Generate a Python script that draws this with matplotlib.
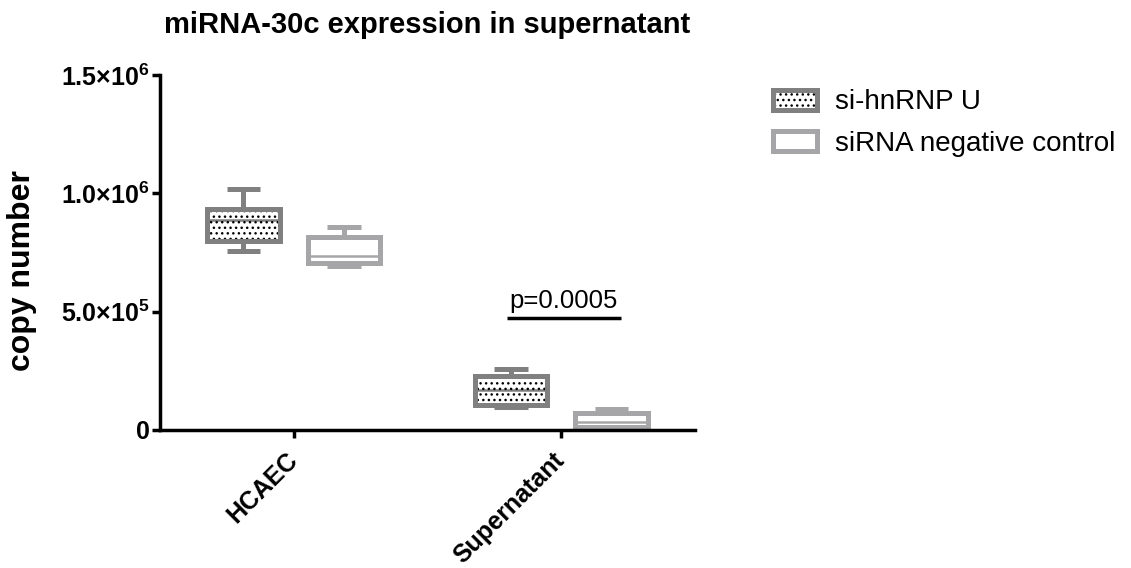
"""Box plot of miRNA-30c copy number, si-hnRNP U vs negative control."""

import matplotlib

matplotlib.use("Agg")

from matplotlib import pyplot as plt
from matplotlib.patches import Patch, PathPatch

plt.rcParams["font.family"] = ["Liberation Sans", "DejaVu Sans"]
plt.rcParams["mathtext.fontset"] = "custom"
plt.rcParams["mathtext.rm"] = "Liberation Sans:bold"
plt.rcParams["mathtext.bf"] = "Liberation Sans:bold"
plt.rcParams["hatch.linewidth"] = 1.0

groups = ["HCAEC", "Supernatant"]
series = ["si-hnRNP U", "siRNA negative control"]

# five-number summaries
sihn_min = [755000, 97000]
sihn_q1 = [797000, 105000]
sihn_med = [886000, 169000]
sihn_q3 = [932000, 228000]
sihn_max = [1020000, 257000]

ctrl_min = [692000, 10000]
ctrl_q1 = [705000, 13000]
ctrl_med = [734000, 34000]
ctrl_q3 = [814000, 72000]
ctrl_max = [857000, 89000]

ytick_values = [0, 500000, 1000000, 1500000]
ytick_labels = ["0", "5.0×10$^{5}$", "1.0×10$^{6}$", "1.5×10$^{6}$"]

p_label = "p=0.0005"

DARK = "#808080"
LIGHT = "#A6A6A8"
HATCH = "..."


def stats(lo, q1, med, q3, hi):
    return [
        {"whislo": a, "q1": b, "med": c, "q3": d, "whishi": e, "fliers": []}
        for a, b, c, d, e in zip(lo, q1, med, q3, hi)
    ]


fig = plt.figure(figsize=(11.31, 5.68), dpi=100, facecolor="white")
ax = fig.add_axes([0.1415, 0.243, 0.473, 0.625])

centers = list(range(1, len(groups) + 1))
offset = 0.188
width = 0.27

sets = [
    (stats(sihn_min, sihn_q1, sihn_med, sihn_q3, sihn_max), -offset, DARK, True),
    (stats(ctrl_min, ctrl_q1, ctrl_med, ctrl_q3, ctrl_max), offset, LIGHT, False),
]
for st, off, color, hatched in sets:
    parts = ax.bxp(
        st,
        positions=[c + off for c in centers],
        widths=width,
        capwidths=0.125,
        patch_artist=True,
        showfliers=False,
        boxprops={"facecolor": "white", "edgecolor": color, "linewidth": 3.6},
        whiskerprops={"color": color, "linewidth": 3.6, "solid_capstyle": "butt"},
        capprops={"color": color, "linewidth": 3.6, "solid_capstyle": "butt"},
        medianprops={"color": color, "linewidth": 1.8},
        manage_ticks=False,
    )
    if hatched:
        for box in parts["boxes"]:
            dots = PathPatch(
                box.get_path(),
                facecolor="none",
                edgecolor="black",
                hatch=HATCH,
                linewidth=0,
                zorder=box.get_zorder() + 0.1,
            )
            ax.add_patch(dots)
            box.set_zorder(box.get_zorder() + 0.2)
            box.set_facecolor("none")

ax.set_xlim(0.5, 2.5)
ax.set_ylim(0, 1500000)
ax.set_xticks(centers)
ax.set_xticklabels(groups, rotation=45, ha="right", va="center",
                   rotation_mode="anchor", fontsize=18, fontweight="bold")
ax.set_yticks(ytick_values)
ax.set_yticklabels(ytick_labels, fontsize=18, fontweight="bold")
ax.tick_params(axis="both", direction="out", length=6, width=2.5)
ax.tick_params(axis="y", pad=1.5)
ax.tick_params(axis="x", pad=13)

for side in ("top", "right"):
    ax.spines[side].set_visible(False)
for side in ("left", "bottom"):
    ax.spines[side].set_linewidth(2.5)

ax.set_ylabel("copy number", fontsize=23, fontweight="bold")
ax.yaxis.set_label_coords(-0.230, 0.45)
ax.set_title("miRNA-30c expression in supernatant", fontsize=21,
             fontweight="bold", pad=30)

# significance bar over the supernatant pair
x0, x1 = centers[1] - offset - width / 2 + 0.12, centers[1] + offset + width / 2 - 0.1
bar_y = 473000
ax.plot([x0, x1], [bar_y, bar_y], color="black", linewidth=2.5,
        solid_capstyle="butt")
ax.text((x0 + x1) / 2, bar_y + 42000, p_label, ha="center", va="baseline",
        fontsize=18.5)

handles = [
    (Patch(facecolor="white", edgecolor="black", hatch=HATCH, linewidth=0),
     Patch(facecolor="none", edgecolor=DARK, linewidth=3.6)),
    Patch(facecolor="white", edgecolor=LIGHT, linewidth=3.6),
]
ax.legend(handles, series, loc="upper left", bbox_to_anchor=(1.10, 1.03),
          frameon=False, fontsize=20, handlelength=1.55, handleheight=0.72,
          labelspacing=0.55, handletextpad=0.65)

fig.savefig("out.png", dpi=100, facecolor="white")
